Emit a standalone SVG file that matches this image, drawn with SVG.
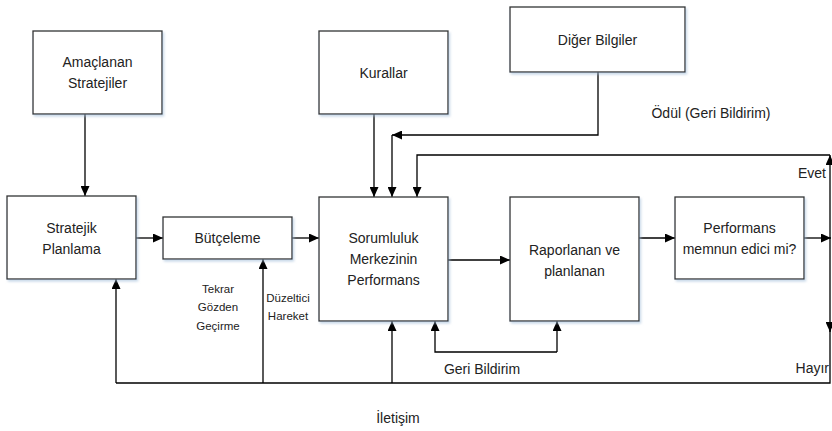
<svg xmlns="http://www.w3.org/2000/svg" width="832" height="431" viewBox="0 0 832 431">
  <defs>
    <marker id="arrow" markerUnits="userSpaceOnUse" markerWidth="10" markerHeight="9" refX="10" refY="4.5" orient="auto">
      <path d="M0,0 L10,4.5 L0,9 Z" fill="#000"/>
    </marker>
    <filter id="shadow" x="-10%" y="-10%" width="130%" height="130%">
      <feDropShadow dx="1.5" dy="2" stdDeviation="1.2" flood-color="#9fbbd8" flood-opacity="0.55"/>
    </filter>
    <style>
      .box { fill: #fff; stroke: #333; stroke-width: 1.3; filter: url(#shadow); }
      .lbl { font-family: "Liberation Sans", Arial, sans-serif; font-size: 14px; fill: #222; text-anchor: middle; }
      .sm { font-size: 11.5px; }
      .end { text-anchor: end; }
      .wire { fill: none; stroke: #000; stroke-width: 1.3; }
      .arr { marker-end: url(#arrow); }
    </style>
  </defs>
  <rect width="832" height="431" fill="#fff"/>

  <!-- connectors -->
  <g id="connectors">
    <line class="wire arr" x1="85" y1="114" x2="85" y2="196"/>
    <line class="wire arr" x1="136" y1="238" x2="163" y2="238"/>
    <line class="wire arr" x1="292" y1="238" x2="319" y2="238"/>
    <line class="wire arr" x1="374" y1="114" x2="374" y2="197"/>
    <polyline class="wire arr" points="598,72 598,135 392,135"/>
    <line class="wire arr" x1="392" y1="135" x2="392" y2="197"/>
    <polyline class="wire arr" points="830,155 417,155 417,197"/>
    <line class="wire arr" x1="448" y1="260" x2="510" y2="260"/>
    <line class="wire arr" x1="639" y1="238" x2="675" y2="238"/>
    <line class="wire arr" x1="804" y1="238" x2="831" y2="238"/>
    <line class="wire arr" x1="830" y1="238" x2="830" y2="155"/>
    <line class="wire arr" x1="830" y1="238" x2="830" y2="332"/>
    <polyline class="wire" points="830,330 830,383 116,383"/>
    <line class="wire arr" x1="116" y1="383" x2="116" y2="279"/>
    <line class="wire arr" x1="263" y1="383" x2="263" y2="259"/>
    <line class="wire arr" x1="392" y1="383" x2="392" y2="321"/>
    <polyline class="wire arr" points="557,352 435,352 435,321"/>
    <line class="wire arr" x1="557" y1="352" x2="557" y2="321"/>
  </g>

  <!-- nodes -->
  <g id="amaclanan">
    <rect class="box" x="33" y="31" width="129" height="83"/>
    <text class="lbl" x="97.5" y="67">Amaçlanan</text>
    <text class="lbl" x="97.5" y="88">Stratejiler</text>
  </g>
  <g id="stratejik">
    <rect class="box" x="7" y="196" width="129" height="83"/>
    <text class="lbl" x="71.5" y="233">Stratejik</text>
    <text class="lbl" x="71.5" y="254">Planlama</text>
  </g>
  <g id="butceleme">
    <rect class="box" x="163" y="217" width="129" height="42"/>
    <text class="lbl" x="227.5" y="243">Bütçeleme</text>
  </g>
  <g id="kurallar">
    <rect class="box" x="319" y="31" width="129" height="83"/>
    <text class="lbl" x="383.5" y="78">Kurallar</text>
  </g>
  <g id="diger">
    <rect class="box" x="510" y="7" width="175" height="65"/>
    <text class="lbl" x="597.5" y="45">Diğer Bilgiler</text>
  </g>
  <g id="sorumluluk">
    <rect class="box" x="319" y="197" width="129" height="124"/>
    <text class="lbl" x="383.5" y="243">Sorumluluk</text>
    <text class="lbl" x="383.5" y="264">Merkezinin</text>
    <text class="lbl" x="383.5" y="285">Performans</text>
  </g>
  <g id="raporlanan">
    <rect class="box" x="510" y="197" width="129" height="124"/>
    <text class="lbl" x="574.5" y="255">Raporlanan ve</text>
    <text class="lbl" x="574.5" y="276">planlanan</text>
  </g>
  <g id="memnun">
    <rect class="box" x="675" y="197" width="129" height="82"/>
    <text class="lbl" x="739.5" y="233">Performans</text>
    <text class="lbl" x="739.5" y="254">memnun edici mi?</text>
  </g>

  <!-- labels -->
  <g id="labels">
    <text class="lbl sm" x="218" y="293">Tekrar</text>
    <text class="lbl sm" x="218" y="311">Gözden</text>
    <text class="lbl sm" x="218" y="330">Geçirme</text>
    <text class="lbl sm" x="288" y="302">Düzeltici</text>
    <text class="lbl sm" x="288" y="320">Hareket</text>
    <text class="lbl" x="482" y="374">Geri Bildirim</text>
    <text class="lbl" x="398" y="423">İletişim</text>
    <text class="lbl" x="711" y="118">Ödül (Geri Bildirim)</text>
    <text class="lbl end" x="826" y="178">Evet</text>
    <text class="lbl end" x="829" y="373">Hayır</text>
  </g>
</svg>
